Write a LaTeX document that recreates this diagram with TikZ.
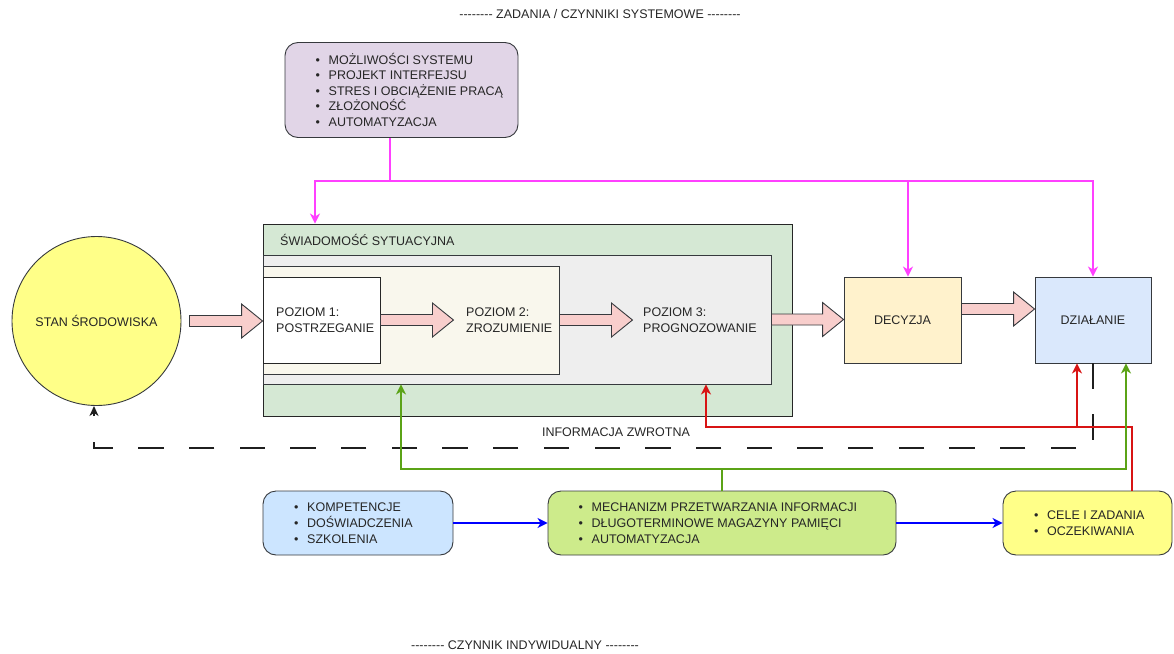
\documentclass[tikz,border=0pt]{standalone}
\usepackage{fontspec}
\setmainfont{Liberation Sans}[Ligatures=TeXOff]
\usetikzlibrary{arrows.meta,calc}

\definecolor{txt}{HTML}{262626}
\definecolor{edge}{HTML}{36393D}
\definecolor{sysfill}{HTML}{E1D5E7}
\definecolor{safill}{HTML}{D5E8D4}
\definecolor{grayfill}{HTML}{EEEEEE}
\definecolor{creamfill}{HTML}{F9F7ED}
\definecolor{yelfill}{HTML}{FFFF88}
\definecolor{pinkfill}{HTML}{F8CECC}
\definecolor{decfill}{HTML}{FFF2CC}
\definecolor{actfill}{HTML}{DAE8FC}
\definecolor{kompfill}{HTML}{CCE5FF}
\definecolor{mechfill}{HTML}{CDEB8B}
\definecolor{magline}{HTML}{FF40FF}
\definecolor{redline}{HTML}{D81414}
\definecolor{grnline}{HTML}{5BA317}
\definecolor{bluline}{HTML}{0000FF}

% bullet item: bullet followed by its text
\newcommand\itm[1]{\makebox[13pt][l]{\textbullet}#1}

% broad pink arrow between two points at the same height
\newcommand\pinkarrow[2]{%
  \path[blockarrow] let \p1=(#1), \p2=(#2) in
    (\x1,\y1+5.5pt) -- (\x2-21pt,\y1+5.5pt) -- (\x2-21pt,\y1+17pt) --
    (\x2,\y1) -- (\x2-21pt,\y1-17pt) -- (\x2-21pt,\y1-5.5pt) --
    (\x1,\y1-5.5pt) -- cycle;}

\begin{document}
\begin{tikzpicture}[x=1pt,y=-1pt,
  font=\fontsize{12.5}{15.5}\selectfont, text=txt,
  box/.style={draw=edge, line width=0.9pt, inner sep=0pt},
  rbox/.style={box, rounded corners=13pt},
  lbl/.style={inner sep=0pt, align=left},
  list/.style={lbl, anchor=west, font=\fontsize{12.5}{16}\selectfont},
  blockarrow/.style={fill=pinkfill, draw=edge, line width=0.9pt, line join=miter},
  tip/.style={-{Stealth[length=10pt,width=10pt,inset=3pt]}},
  magl/.style={draw=magline, line width=2pt},
  redl/.style={draw=redline, line width=1.8pt},
  grnl/.style={draw=grnline, line width=1.8pt},
  blul/.style={draw=bluline, line width=1.8pt},
  fbline/.style={draw=black!88, line width=2.4pt, dash pattern=on 25.35pt off 25.35pt}
]
\useasboundingbox (0,0) rectangle (1174,653);

% headings
\node[lbl] (toptitle) at (600,14) {-------- ZADANIA / CZYNNIKI SYSTEMOWE --------};
\node[lbl] (bottitle) at (525,645) {-------- CZYNNIK INDYWIDUALNY --------};

% system factors
\node[rbox, fill=sysfill, minimum width=233pt, minimum height=95pt] (sys) at (401.5,90) {};
\node[list, font=\fontsize{12.5}{15.5}\selectfont] (syslist) at (315.5,89.5)
  {\itm{MOŻLIWOŚCI SYSTEMU}\\\itm{PROJEKT INTERFEJSU}\\\itm{STRES I OBCIĄŻENIE PRACĄ}\\\itm{ZŁOŻONOŚĆ}\\\itm{AUTOMATYZACJA}};

% environment state
\node[draw=edge, line width=0.9pt, fill=yelfill, circle, minimum size=169pt, inner sep=0pt] (env) at (96.5,321) {STAN ŚRODOWISKA};

% situational awareness with its nested levels
\node[box, draw=black!85, fill=safill, minimum width=529pt, minimum height=192pt] (aware) at (527.5,320) {};
\node[lbl, anchor=west] (awaretxt) at (280,240) {ŚWIADOMOŚĆ SYTUACYJNA};
\node[box, fill=grayfill, minimum width=508pt, minimum height=129pt] (lvl3) at (517,319.5) {};
\node[box, fill=creamfill, minimum width=296pt, minimum height=108pt] (lvl2) at (411,320) {};
\node[box, draw=black!85, fill=white, minimum width=117pt, minimum height=86pt] (lvl1) at (321.5,320) {};
\node[lbl, anchor=west, font=\fontsize{12.5}{16}\selectfont] (lvl1txt) at (276,320) {POZIOM 1:\\POSTRZEGANIE};
\node[lbl, anchor=west, font=\fontsize{12.5}{16}\selectfont] (lvl2txt) at (466,320) {POZIOM 2:\\ZROZUMIENIE};
\node[lbl, anchor=west, font=\fontsize{12.5}{16}\selectfont] (lvl3txt) at (643,320) {POZIOM 3:\\PROGNOZOWANIE};

% decision and action
\node[box, fill=decfill, minimum width=117pt, minimum height=86pt] (dec) at (902.5,320) {DECYZJA};
\node[box, fill=actfill, minimum width=116pt, minimum height=86pt] (act) at (1093,320) {DZIAŁANIE};

% individual factors
\node[rbox, fill=kompfill, minimum width=190pt, minimum height=64pt] (komp) at (358,523) {};
\node[list] (komplist) at (294,523) {\itm{KOMPETENCJE}\\\itm{DOŚWIADCZENIA}\\\itm{SZKOLENIA}};
\node[rbox, fill=mechfill, minimum width=348pt, minimum height=64pt] (mech) at (722,523) {};
\node[list] (mechlist) at (578.5,523) {\itm{MECHANIZM PRZETWARZANIA INFORMACJI}\\\itm{DŁUGOTERMINOWE MAGAZYNY PAMIĘCI}\\\itm{AUTOMATYZACJA}};
\node[rbox, fill=yelfill, minimum width=169pt, minimum height=64pt] (cele) at (1087.5,523) {};
\node[list] (celelist) at (1034,523.5) {\itm{CELE I ZADANIA}\\\itm{OCZEKIWANIA}};

% main flow
\pinkarrow{$(env.east)+(8,0)$}{lvl1.west}
\pinkarrow{lvl1.east}{$(lvl1.east)+(73,0)$}
\pinkarrow{lvl2.east}{$(lvl2.east)+(73,0)$}
\pinkarrow{lvl3.east}{dec.west}
\pinkarrow{$(dec.east)+(0,-11)$}{$(act.west)+(0,-11)$}

% system factors feed
\coordinate (mj) at (390,181);
\coordinate (mL) at (315,181);
\coordinate (mD) at (908,181);
\draw[magl] (mj |- sys.south) -- (mj);
\draw[magl, tip] (mj) -- (mL) -- (mL |- aware.north);
\draw[magl, tip] (mj) -- (mD) -- (mD |- dec.north);
\draw[magl, tip] (mD) -- (act.north |- mD) -- (act.north);

% feedback to the environment
\coordinate (fbR) at (1093,448);
\coordinate (fbL) at (94,448);
\draw[fbline, -{Stealth[length=10pt,width=9pt,inset=3pt]}]
  (act.south) -- (fbR) -- (fbL) -- (fbL |- env.south);
\node[lbl] (fbtxt) at (616,432) {INFORMACJA ZWROTNA};

% goals and expectations
\coordinate (rB) at (1132,427);
\coordinate (rL) at (706,427);
\coordinate (rA) at (1077,427);
\draw[redl, tip] (rB |- cele.north) -- (rB) -- (rL) -- (rL |- lvl3.south);
\draw[redl, tip] (rA) -- (rA |- act.south);

% information processing
\coordinate (gM) at (722,469);
\coordinate (gL) at (401,469);
\coordinate (gR) at (1126,469);
\draw[grnl] (mech.north) -- (gM);
\draw[grnl, tip] (gM) -- (gL) -- (gL |- lvl3.south);
\draw[grnl, tip] (gM) -- (gR) -- (gR |- act.south);

% individual chain
\draw[blul, tip] (komp.east) -- (mech.west);
\draw[blul, tip] (mech.east) -- (cele.west);
\end{tikzpicture}
\end{document}
